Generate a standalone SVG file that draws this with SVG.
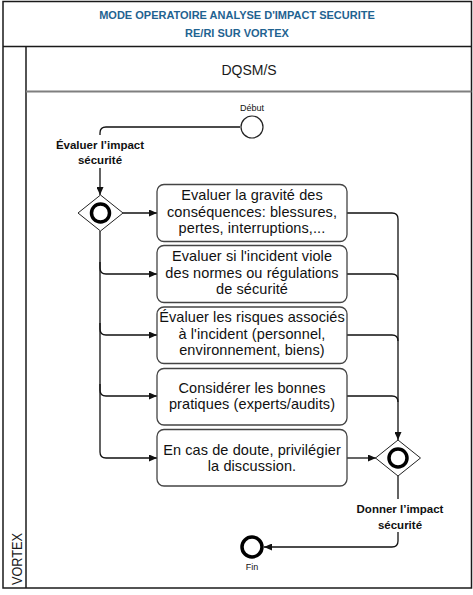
<svg xmlns="http://www.w3.org/2000/svg" width="473" height="595" viewBox="0 0 473 595">
<style>
.frame{fill:none;stroke:#1a1a1a;stroke-width:1.5}
.gray{stroke:#7f7f7f;stroke-width:2}
.title{font-family:"Liberation Sans",Arial,sans-serif;font-weight:bold;font-size:11px;fill:#1f6391;text-anchor:middle}
.lane{font-family:"Liberation Sans",Arial,sans-serif;font-size:14px;fill:#1a1a1a;text-anchor:middle}
.task rect{fill:#fff;stroke:#444;stroke-width:1.3}
.task text{font-family:"Liberation Sans",Arial,sans-serif;font-size:14.5px;letter-spacing:0.1px;fill:#111;text-anchor:middle}
.gw polygon{fill:#fff;stroke:#222;stroke-width:1}
.gw circle{fill:none;stroke:#000;stroke-width:3.5}
.small{font-family:"Liberation Sans",Arial,sans-serif;font-size:9px;fill:#111;text-anchor:middle}
.lbl{font-family:"Liberation Sans",Arial,sans-serif;font-weight:bold;font-size:11.5px;fill:#111;text-anchor:middle}
.conn path{fill:none;stroke:#111;stroke-width:1.3}
</style>
<defs>
<marker id="arr" markerUnits="userSpaceOnUse" markerWidth="8" markerHeight="7" refX="8" refY="3.5" orient="auto">
<path d="M0,0 L8,3.5 L0,7 z" fill="#111"/>
</marker>
</defs>
<rect width="473" height="595" fill="#fff"/>
<g id="pool">
<rect class="frame" x="3" y="1.5" width="468.5" height="586.5"/>
<line class="frame" x1="3" y1="46.5" x2="471.5" y2="46.5"/>
<line class="frame" x1="26" y1="46.5" x2="26" y2="588"/>
<line class="gray" x1="26" y1="91.5" x2="471.5" y2="91.5"/>
<text class="title" x="237" y="19">MODE OPERATOIRE ANALYSE D'IMPACT SECURITE</text>
<text class="title" x="237" y="36.5">RE/RI SUR VORTEX</text>
<text class="lane" x="249" y="75">DQSM/S</text>
<text class="lane" x="0" y="0" font-size="15" textLength="52" lengthAdjust="spacingAndGlyphs" transform="translate(21.5,559) rotate(-90)">VORTEX</text>
</g>
<g class="conn" id="connectors">
<path d="M240,127 H106 Q100,127 100,133 V195" marker-end="url(#arr)"/>
<path d="M123,213 H157" marker-end="url(#arr)"/>
<path d="M100,231 V452 Q100,458 106,458 H157" marker-end="url(#arr)"/>
<path d="M100,262 V268 Q100,274 106,274 H157" marker-end="url(#arr)"/>
<path d="M100,323 V329 Q100,335 106,335 H157" marker-end="url(#arr)"/>
<path d="M100,384 V390 Q100,396 106,396 H157" marker-end="url(#arr)"/>
<path d="M347,213 H392 Q398,213 398,219 V440" marker-end="url(#arr)"/>
<path d="M347,274 H392 Q398,274 398,280"/>
<path d="M347,335 H392 Q398,335 398,341"/>
<path d="M347,396 H392 Q398,396 398,402"/>
<path d="M347,458 H376" marker-end="url(#arr)"/>
<path d="M398,476 V541 Q398,547 392,547 H264" marker-end="url(#arr)"/>
<rect x="52" y="135" width="96" height="33" fill="#fff"/>
<text class="lbl" x="100" y="148.5">Évaluer l’impact</text>
<text class="lbl" x="100" y="163.5">sécurité</text>
<rect x="354" y="499" width="96" height="33" fill="#fff"/>
<text class="lbl" x="400" y="513">Donner l’impact</text>
<text class="lbl" x="400" y="529">sécurité</text>
</g>
<g id="start">
<circle cx="252" cy="127" r="11" fill="#fff" stroke="#222" stroke-width="1.2"/>
<text class="small" x="252" y="111">Début</text>
</g>
<g id="gateway1" class="gw">
<polygon points="78,213 100.5,195 123,213 100.5,231"/>
<circle cx="100.5" cy="213" r="9"/>
</g>
<g id="task1" class="task">
<rect x="157" y="184.5" width="190" height="57" rx="7"/>
<text x="252" y="200">Evaluer la gravité des</text>
<text x="252" y="216.5">conséquences: blessures,</text>
<text x="252" y="233">pertes, interruptions,...</text>
</g>
<g id="task2" class="task">
<rect x="157" y="245.5" width="190" height="57" rx="7"/>
<text x="252" y="261">Evaluer si l'incident viole</text>
<text x="252" y="277.5">des normes ou régulations</text>
<text x="252" y="294">de sécurité</text>
</g>
<g id="task3" class="task">
<rect x="157" y="307" width="190" height="56.5" rx="7"/>
<text x="252" y="322">Évaluer les risques associés</text>
<text x="252" y="338.5">à l'incident (personnel,</text>
<text x="252" y="355">environnement, biens)</text>
</g>
<g id="task4" class="task">
<rect x="157" y="368.5" width="190" height="56.5" rx="7"/>
<text x="252" y="393">Considérer les bonnes</text>
<text x="252" y="409">pratiques (experts/audits)</text>
</g>
<g id="task5" class="task">
<rect x="157" y="429.5" width="190" height="56.5" rx="7"/>
<text x="252" y="454.5">En cas de doute, privilégier</text>
<text x="252" y="470.5">la discussion.</text>
</g>
<g id="gateway2" class="gw">
<polygon points="375.5,458 398,440 420.5,458 398,476"/>
<circle cx="398" cy="458" r="9"/>
</g>
<g id="end">
<circle cx="252" cy="547" r="10" fill="#fff" stroke="#000" stroke-width="3.5"/>
<text class="small" x="252" y="570">Fin</text>
</g>
</svg>
